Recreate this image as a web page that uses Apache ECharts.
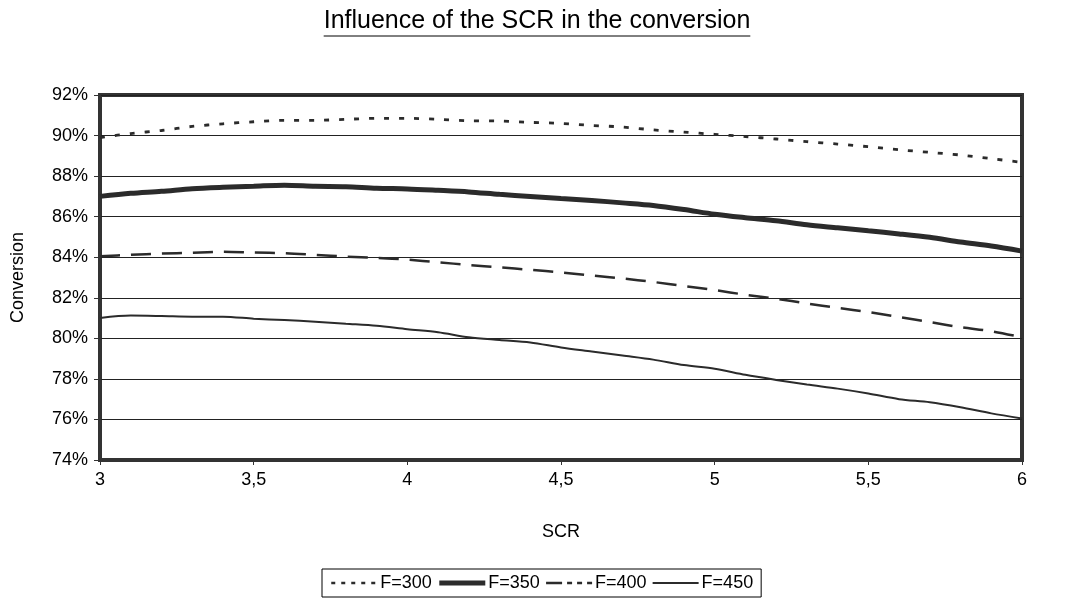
<!DOCTYPE html>
<html>
<head>
<meta charset="utf-8">
<script src="https://cdn.jsdelivr.net/npm/echarts@6/dist/echarts.min.js"></script>
<style>
  html, body { margin: 0; padding: 0; background: #fff; }
  #chart { width: 1070px; height: 604px; }
</style>
</head>
<body>
<div id="chart"></div>
<script>
// SCR values (x) sampled every 0.1
const scr = [3.0, 3.1, 3.2, 3.3, 3.4, 3.5, 3.6, 3.7, 3.8, 3.9, 4.0,
             4.1, 4.2, 4.3, 4.4, 4.5, 4.6, 4.7, 4.8, 4.9, 5.0,
             5.1, 5.2, 5.3, 5.4, 5.5, 5.6, 5.7, 5.8, 5.9, 6.0];

// Conversion (%) for each feed rate
const f300 = [89.90, 90.10, 90.25, 90.45, 90.58, 90.68, 90.75, 90.75, 90.80, 90.85, 90.85,
              90.80, 90.73, 90.72, 90.65, 90.60, 90.50, 90.42, 90.28, 90.17, 90.06,
              89.95, 89.83, 89.70, 89.58, 89.45, 89.30, 89.17, 89.04, 88.86, 88.68];
const f350 = [87.00, 87.15, 87.25, 87.38, 87.45, 87.50, 87.55, 87.50, 87.48, 87.40, 87.37,
              87.30, 87.22, 87.10, 87.00, 86.90, 86.80, 86.68, 86.55, 86.35, 86.12,
              85.95, 85.80, 85.60, 85.45, 85.30, 85.15, 84.98, 84.75, 84.55, 84.30];
const f400 = [84.05, 84.12, 84.18, 84.22, 84.27, 84.23, 84.20, 84.12, 84.03, 83.97, 83.88,
              83.75, 83.62, 83.50, 83.38, 83.25, 83.10, 82.95, 82.78, 82.58, 82.38,
              82.15, 81.95, 81.72, 81.50, 81.30, 81.05, 80.80, 80.55, 80.35, 80.05];
const f450 = [81.00, 81.12, 81.10, 81.07, 81.07, 80.97, 80.90, 80.82, 80.72, 80.62, 80.45,
              80.30, 80.05, 79.92, 79.80, 79.55, 79.35, 79.15, 78.95, 78.68, 78.50,
              78.20, 77.95, 77.72, 77.52, 77.28, 77.00, 76.85, 76.60, 76.30, 76.05];

const seriesNames = ['F=300', 'F=350', 'F=400', 'F=450'];
const titleText = 'Influence of the SCR in the conversion';

const FONT = '"Liberation Sans", Arial, sans-serif';
const INK = '#2b2b2b';
const LABEL_SIZE = 18;

function pairs(ys) { return scr.map((x, i) => [x, ys[i]]); }

// width of the title, for its underline
function textWidth(str, font) {
  const c = document.createElement('canvas').getContext('2d');
  c.font = font;
  return c.measureText(str).width;
}
const titleSize = 25;
const titleW = textWidth(titleText, titleSize + 'px ' + FONT);
const titleCx = 537, titleY = 9;

const chart = echarts.init(document.getElementById('chart'), null, { renderer: 'canvas' });

const styles = [
  { width: 2.8, type: [5, 10] },
  { width: 5, type: 'solid' },
  { width: 2.5, type: [20, 11] },
  { width: 2, type: 'solid' }
];

chart.setOption({
  animation: false,
  backgroundColor: '#fff',
  graphic: [
    {
      type: 'text', left: titleCx - titleW / 2, top: titleY,
      style: { text: titleText, font: titleSize + 'px ' + FONT, fill: '#000' }
    },
    {
      type: 'line',
      shape: { x1: titleCx - titleW / 2, y1: titleY + 27, x2: titleCx + titleW / 2, y2: titleY + 27 },
      style: { stroke: '#000', lineWidth: 1 }
    }
  ],
  grid: {
    left: 100, right: 48, top: 95, bottom: 144,
    containLabel: false, outerBoundsMode: 'none',
    show: true, borderColor: '#333', borderWidth: 4, backgroundColor: '#fff'
  },
  legend: {
    left: 322, top: 569,
    padding: [5, 8, 5, 8],
    itemWidth: 46, itemHeight: 20, itemGap: 5,
    borderColor: '#000', borderWidth: 1,
    itemStyle: { opacity: 0 },
    textStyle: { fontFamily: FONT, fontSize: LABEL_SIZE, color: '#000', padding: [0, 0, 0, -2] },
    data: [
      { name: 'F=300', lineStyle: { type: [4, 6], width: 2.5 } },
      { name: 'F=350', lineStyle: { type: 'solid', width: 5 } },
      { name: 'F=400', lineStyle: { type: [16, 5, 5, 5, 5, 5], width: 2.5 } },
      { name: 'F=450', lineStyle: { type: 'solid', width: 2 } }
    ]
  },
  xAxis: {
    type: 'value', min: 3, max: 6, interval: 0.5,
    name: 'SCR', nameLocation: 'middle', nameGap: 63,
    nameTextStyle: { fontFamily: FONT, fontSize: LABEL_SIZE, color: '#000' },
    axisLine: { show: true, lineStyle: { color: '#333', width: 1 } },
    axisTick: { show: true, length: 5, lineStyle: { color: '#333' } },
    axisLabel: {
      margin: 11, fontFamily: FONT, fontSize: LABEL_SIZE, color: '#000',
      formatter: v => String(v).replace('.', ',')
    },
    splitLine: { show: false }
  },
  yAxis: {
    type: 'value', min: 74, max: 92, interval: 2,
    name: 'Conversion', nameLocation: 'middle', nameGap: 73, nameRotate: 90,
    nameTextStyle: { fontFamily: FONT, fontSize: LABEL_SIZE, color: '#000' },
    axisLine: { show: true, lineStyle: { color: '#333', width: 1 } },
    axisTick: { show: true, length: 6, lineStyle: { color: '#333' } },
    axisLabel: { margin: 12, fontFamily: FONT, fontSize: LABEL_SIZE, color: '#000', formatter: '{value}%' },
    splitLine: { show: true, lineStyle: { color: '#222', width: 1 } }
  },
  series: [f300, f350, f400, f450].map((ys, i) => ({
    name: seriesNames[i],
    type: 'line',
    data: pairs(ys),
    smooth: 0.3,
    symbol: 'none',
    color: INK,
    lineStyle: { color: INK, width: styles[i].width, type: styles[i].type }
  }))
});
</script>
</body>
</html>
